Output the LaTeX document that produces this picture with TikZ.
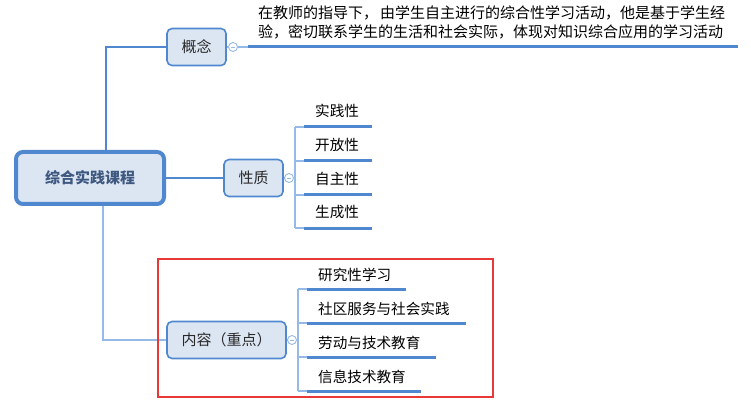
\documentclass[tikz,border=0pt]{standalone}
\usepackage{fontspec}
\setmainfont{Noto Sans CJK SC}
\newfontfamily\cjk{Noto Sans CJK SC}
\begin{document}
\begin{tikzpicture}[x=1pt,y=-1pt,
  mblue/.style={draw=mainblue},
  rootbox/.style={draw=mainblue,line width=4pt,fill=boxfill,rounded corners=7pt,minimum width=148pt,minimum height=52pt,inner sep=0pt,text=roottext,font=\cjk\fontsize{15pt}{18pt}\selectfont\bfseries},
  subbox/.style={draw=mainblue,line width=1.6pt,fill=boxfill,rounded corners=5pt,minimum height=37pt,inner sep=0pt,text=nodetext,font=\cjk\fontsize{15pt}{18pt}\selectfont},
  conn/.style={draw=mainblue,line width=1.3pt},
  lconn/.style={draw=lightblue,line width=1.6pt},
  ul/.style={draw=mainblue,line width=3pt},
  tiny/.style={draw=lightblue,line width=1.1pt},
  collapse/.style={circle,draw=lightblue,line width=0.9pt,fill=white,minimum size=9pt,inner sep=0pt,
     path picture={\draw[lightblue,line width=0.8pt] ([xshift=-2.3pt]path picture bounding box.center) -- ([xshift=2.3pt]path picture bounding box.center);}},
  leaf/.style={anchor=base west,inner sep=0pt,text=black,font=\cjk\fontsize{14.6pt}{17pt}\selectfont},
  longtext/.style={anchor=base west,inner sep=0pt,text=black,font=\cjk\fontsize{15pt}{17pt}\selectfont},
]
\definecolor{mainblue}{RGB}{79,136,207}
\definecolor{lightblue}{RGB}{150,186,232}
\definecolor{boxfill}{RGB}{220,230,243}
\definecolor{roottext}{RGB}{62,88,128}
\definecolor{nodetext}{RGB}{40,40,40}
\definecolor{redbox}{RGB}{232,56,56}
\useasboundingbox (0,0) rectangle (751,403);

% root
\node[rootbox] (root) at (90,178) {综合实践课程};

% 概念
\node[subbox,minimum width=59pt] (gn) at (196.5,47) {概念};
\node[collapse] (cgn) at (233,47) {};
\coordinate (gnl) at (248,47);
\coordinate (gnr) at (738,47);
\draw[conn] (root.north -| 106,0) -- (106,47) -- (gn.west);
\draw[tiny] (gn.east) -- (cgn.west);
\draw[tiny] (cgn.east) -- (gnl);
\draw[ul] (gnl) -- (gnr);
\node[longtext] (t1) at (258,19) {在教师的指导下，\hspace{2pt}由学生自主进行的综合性学习活动，他是基于学生经};
\node[longtext] (t2) at (258,38) {验，密切联系学生的生活和社会实际，体现对知识综合应用的学习活动};

% 性质
\node[subbox,minimum width=59pt] (xz) at (253.5,178) {性质};
\node[collapse] (cxz) at (289,178) {};
\draw[conn] (root.east) -- (xz.west);
\draw[tiny] (xz.east) -- (cxz.west);
\coordinate (xb1) at (295,127);
\coordinate (xb4) at (295,228);
\draw[tiny] (xb1) -- (xb4);
\foreach \y/\t/\n in {127/实践性/a,161/开放性/b,195/自主性/c,228/生成性/d}{
  \coordinate (xs\n) at (295,\y);
  \coordinate (xu\n) at (304,\y);
  \coordinate (xe\n) at (372,\y);
  \draw[tiny] (xs\n) -- (xu\n);
  \draw[ul] (xu\n) -- (xe\n);
  \node[leaf] (xl\n) at (315,\y-10) {\t};
}

% 内容
\node[subbox,minimum width=119pt] (nr) at (226.5,340) {内容（重点）};
\node[collapse] (cnr) at (292,340) {};
\draw[lconn] (root.south -| 103,0) -- (103,340) -- (nr.west);
\draw[tiny] (nr.east) -- (cnr.west);
\coordinate (nb1) at (298,289);
\coordinate (nb4) at (298,391);
\draw[tiny] (nb1) -- (nb4);
\foreach \y/\t/\e/\n in {289/研究性学习/406/a,323/社区服务与社会实践/466/b,357/劳动与技术教育/436/c,391/信息技术教育/421/d}{
  \coordinate (ns\n) at (298,\y);
  \coordinate (nu\n) at (307,\y);
  \coordinate (ne\n) at (\e,\y);
  \draw[tiny] (ns\n) -- (nu\n);
  \draw[ul] (nu\n) -- (ne\n);
  \node[leaf] (nl\n) at (318,\y-9) {\t};
}

% red highlight
\node[draw=redbox,line width=2pt,minimum width=335pt,minimum height=138pt,inner sep=0pt] (hl) at (325.5,328) {};
\end{tikzpicture}
\end{document}
